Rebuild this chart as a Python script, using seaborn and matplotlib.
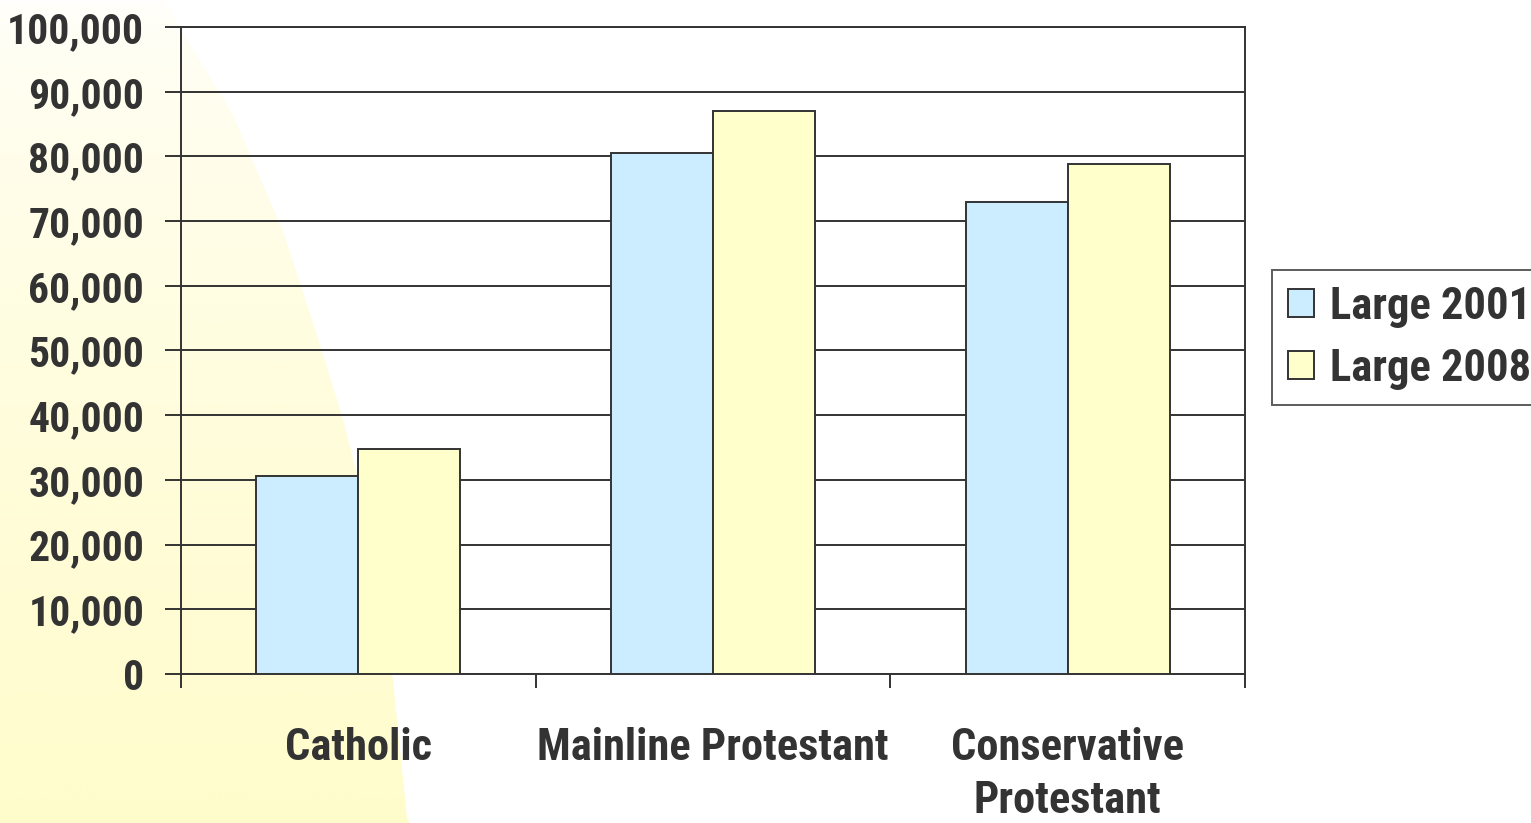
import numpy as np
import pandas as pd
import matplotlib
matplotlib.use('Agg')
import matplotlib.pyplot as plt
from matplotlib import font_manager
from matplotlib.patches import Polygon
from matplotlib.ticker import FuncFormatter, FixedLocator
import seaborn as sns

# data
categories = ['Catholic', 'Mainline Protestant', 'Conservative\nProtestant']
series_names = ['Large 2001', 'Large 2008']
values_2001 = [30600, 80500, 73000]
values_2008 = [34700, 87000, 78800]
bar_colors = ['#CCECFF', '#FFFFCC']
y_ticks = list(range(0, 100001, 10000))

df = pd.DataFrame({
    'category': categories * 2,
    'series': [series_names[0]] * 3 + [series_names[1]] * 3,
    'value': values_2001 + values_2008,
})

sns.set_theme(style='white')
names = {f.name for f in font_manager.fontManager.ttflist}
narrow = next((n for n in ['Liberation Sans Narrow', 'Roboto Condensed',
                           'Fira Sans Condensed', 'Barlow Semi Condensed']
               if n in names), 'Liberation Sans')
plt.rcParams['font.family'] = [narrow, 'DejaVu Sans']
plt.rcParams['font.weight'] = 'bold'
ink = '#333333'
fs = 32

W, H, DPI = 1531, 823, 100
fig = plt.figure(figsize=(W / DPI, H / DPI), dpi=DPI, facecolor='white')

# yellow fan in the background
bg = fig.add_axes([0, 0, 1, 1], zorder=-5)
bg.set_xlim(0, W)
bg.set_ylim(H, 0)
bg.axis('off')
grad = np.linspace(0, 1, 256)[:, None] ** 0.6
rgba = np.zeros((256, 1, 4))
rgba[..., 0] = 1.0
rgba[..., 1] = 0.992
rgba[..., 2] = 0.80
rgba[..., 3] = 0.05 + 0.95 * grad
img = bg.imshow(rgba, extent=[0, 420, H, 0], aspect='auto', interpolation='bilinear')
fan = Polygon([(0, 0), (165, 0), (182, 31), (233, 115), (283, 231), (317, 335),
               (343, 419), (363, 498), (387, 629), (393, 681), (407, 818),
               (410, H), (0, H)], closed=True, transform=bg.transData,
              facecolor='none', edgecolor='none')
bg.add_patch(fan)
img.set_clip_path(fan)

ax = fig.add_axes([181 / W, 1 - 674 / H, (1245 - 181) / W, (674 - 27) / H])
ax.patch.set_alpha(0)

sns.barplot(data=df, x='category', y='value', hue='series', palette=bar_colors,
            width=0.575, edgecolor=ink, linewidth=1.4, saturation=1,
            errorbar=None, ax=ax, zorder=3)

ax.set_ylim(0, 100000)
ax.set_xlim(-0.5, 2.5)
ax.yaxis.set_major_locator(FixedLocator(y_ticks))
ax.yaxis.set_major_formatter(FuncFormatter(lambda v, p: f'{int(v):,}'))
ax.grid(axis='y', color=ink, linewidth=1.4, zorder=0)
ax.set_axisbelow(True)
ax.set_xlabel('')
ax.set_ylabel('')

for s in ax.spines.values():
    s.set_visible(True)
    s.set_color(ink)
    s.set_linewidth(1.4)

ax.tick_params(axis='y', direction='out', length=11.5, width=1.4, color=ink,
               pad=15, labelsize=30, labelcolor=ink, left=True)
ax.set_xticks([0, 1, 2])
ax.set_xticklabels(categories, fontsize=fs, color=ink, linespacing=1.35)
ax.tick_params(axis='x', which='major', length=0, pad=38)
ax.set_xticks([-0.5, 0.5, 1.5, 2.5], minor=True)
ax.tick_params(axis='x', which='minor', direction='out', length=10, width=1.4,
               color=ink, bottom=True)
for t in ax.get_yticklabels() + ax.get_xticklabels():
    t.set_fontweight('bold')

leg = ax.legend(loc='upper left', bbox_to_anchor=(1272 / W, 1 - 270 / H),
                bbox_transform=fig.transFigure, frameon=True, fancybox=False,
                prop={'size': fs, 'weight': 'bold'}, handlelength=0.6,
                handleheight=0.6, handletextpad=0.35, labelspacing=0.45,
                borderpad=0.35, borderaxespad=0)
leg.get_frame().set_edgecolor(ink)
leg.get_frame().set_linewidth(1.4)
for t in leg.get_texts():
    t.set_color(ink)

fig.savefig('out.png', dpi=DPI)
